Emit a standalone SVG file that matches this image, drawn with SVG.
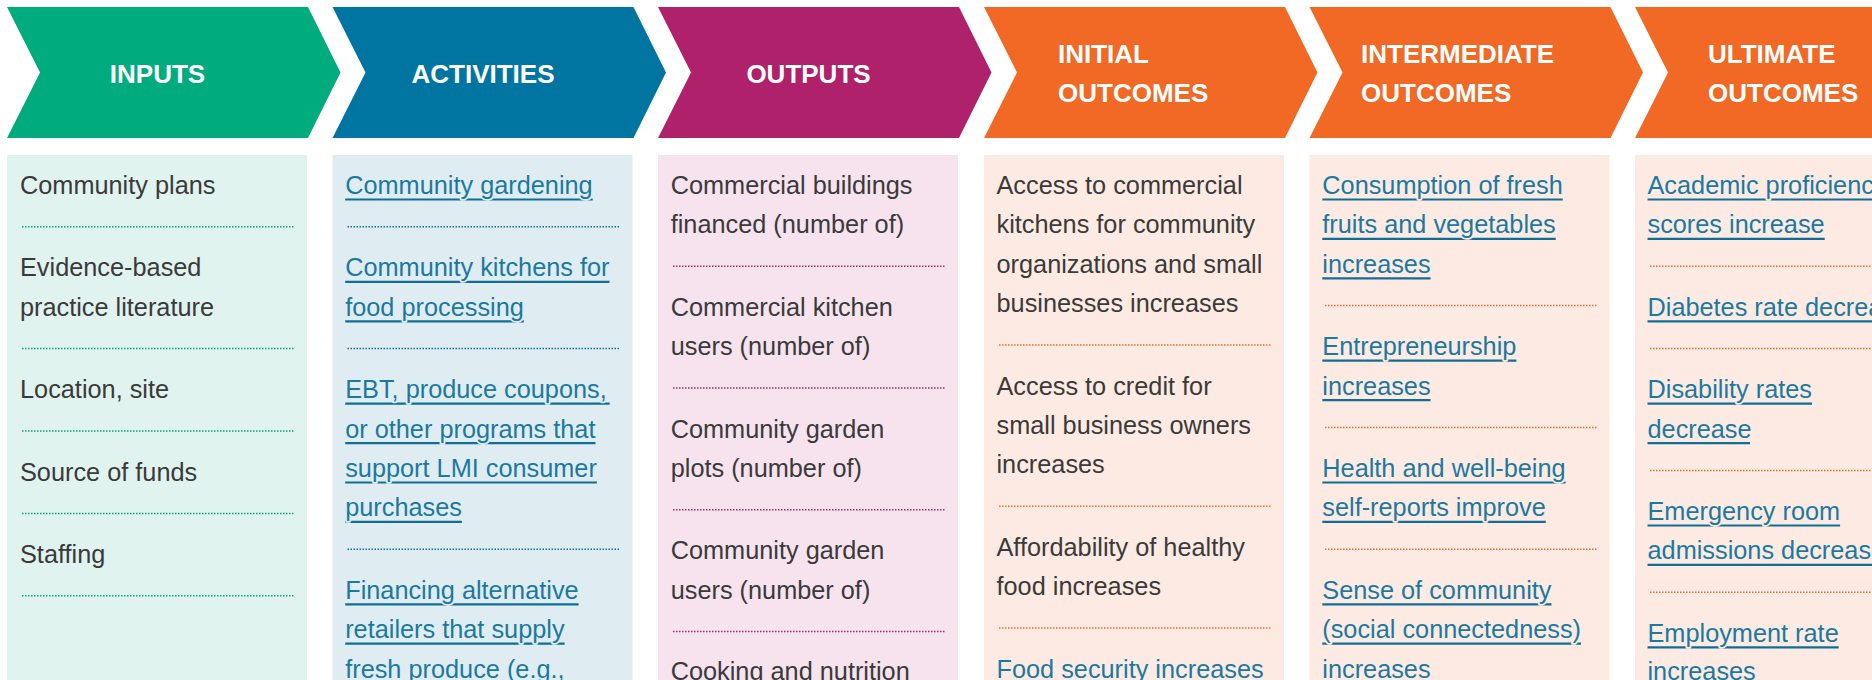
<svg xmlns="http://www.w3.org/2000/svg" width="1872" height="680" viewBox="0 0 1872 680">
  <style>
    .hdr { font-family: "Liberation Sans", Arial, sans-serif; font-weight: bold; font-size: 26px; fill: #ffffff; }
    .c { text-anchor: middle; }
    .body { font-family: "Liberation Sans", Arial, sans-serif; font-size: 25.3px; fill: #3a3a3a; }
    .link { font-family: "Liberation Sans", Arial, sans-serif; font-size: 25.3px; fill: #1b79a1; stroke-width: 3.5; stroke-linejoin: round; paint-order: stroke; }
    .on-act { stroke: #dfedf3; }
    .on-oc { stroke: #fdebe3; }
    .ul { stroke: #0f6e98; stroke-width: 2.2; }
    .dot { stroke-width: 1.5; stroke-dasharray: 1.5 1.5; fill: none; }
    .g-in { fill: #00ac7d; } .bg-in { fill: #e0f3ef; } .d-in { stroke: #00a87a; }
    .g-act { fill: #0075a2; } .bg-act { fill: #dfedf3; } .d-act { stroke: #0b6f9b; }
    .g-out { fill: #af226b; } .bg-out { fill: #f6e3ee; } .d-out { stroke: #a8236a; }
    .g-oc { fill: #f16924; } .bg-oc { fill: #fdebe3; } .d-oc { stroke: #f06a28; }
  </style>
  <defs>
    <!-- chevron body: 301 wide along the top, 32.5 deep point and notch -->
    <path id="chev" d="M0,7 L301,7 L333.5,72.5 L301,138 L0,138 L33,72.5 Z"/>
  </defs>
  <rect width="1872" height="680" fill="#ffffff"/>

  <!-- INPUTS -->
  <g id="inputs">
    <use href="#chev" x="7" class="g-in"/>
    <text class="hdr c" x="157.5" y="83">INPUTS</text>
    <rect x="7" y="155" width="300" height="530" class="bg-in"/>
    <g class="body">
      <text x="20" y="194">Community plans</text>
      <text x="20" y="276.4">Evidence-based</text>
      <text x="20" y="315.8">practice literature</text>
      <text x="20" y="398.2">Location, site</text>
      <text x="20" y="480.6">Source of funds</text>
      <text x="20" y="563">Staffing</text>
    </g>
    <g class="dot d-in">
      <line x1="22" y1="226.8" x2="294" y2="226.8"/>
      <line x1="22" y1="348.6" x2="294" y2="348.6"/>
      <line x1="22" y1="431" x2="294" y2="431"/>
      <line x1="22" y1="513.4" x2="294" y2="513.4"/>
      <line x1="22" y1="595.8" x2="294" y2="595.8"/>
    </g>
  </g>

  <!-- ACTIVITIES -->
  <g id="activities">
    <use href="#chev" x="332.5" class="g-act"/>
    <text class="hdr c" x="483" y="83">ACTIVITIES</text>
    <rect x="332.5" y="155" width="300" height="530" class="bg-act"/>
    <g class="ul">
      <line x1="345.2" y1="199.5" x2="592.7" y2="199.5"/>
      <line x1="345.2" y1="281.9" x2="609.5" y2="281.9"/>
      <line x1="345.2" y1="321.3" x2="523.8" y2="321.3"/>
      <line x1="345.2" y1="403.7" x2="609.6" y2="403.7"/>
      <line x1="345.2" y1="443.1" x2="595.5" y2="443.1"/>
      <line x1="345.2" y1="482.5" x2="596.9" y2="482.5"/>
      <line x1="345.2" y1="521.9" x2="461.9" y2="521.9"/>
      <line x1="345.2" y1="604.3" x2="578.6" y2="604.3"/>
      <line x1="345.2" y1="643.7" x2="564.6" y2="643.7"/>
      <line x1="345.2" y1="683.1" x2="564.6" y2="683.1"/>
    </g>
    <g class="link on-act">
      <text x="345.2" y="194">Community gardening</text>
      <text x="345.2" y="276.4">Community kitchens for</text>
      <text x="345.2" y="315.8">food processing</text>
      <text x="345.2" y="398.2">EBT, produce coupons,</text>
      <text x="345.2" y="437.6">or other programs that</text>
      <text x="345.2" y="477">support LMI consumer</text>
      <text x="345.2" y="516.4">purchases</text>
      <text x="345.2" y="598.8">Financing alternative</text>
      <text x="345.2" y="638.2">retailers that supply</text>
      <text x="345.2" y="677.6">fresh produce (e.g.,</text>
    </g>
    <g class="dot d-act">
      <line x1="347.5" y1="226.8" x2="619.5" y2="226.8"/>
      <line x1="347.5" y1="348.6" x2="619.5" y2="348.6"/>
      <line x1="347.5" y1="549.2" x2="619.5" y2="549.2"/>
    </g>
  </g>

  <!-- OUTPUTS -->
  <g id="outputs">
    <use href="#chev" x="658" class="g-out"/>
    <text class="hdr c" x="808.5" y="83">OUTPUTS</text>
    <rect x="658" y="155" width="300" height="530" class="bg-out"/>
    <g class="body">
      <text x="670.7" y="194">Commercial buildings</text>
      <text x="670.7" y="233.4">financed (number of)</text>
      <text x="670.7" y="315.8">Commercial kitchen</text>
      <text x="670.7" y="355.2">users (number of)</text>
      <text x="670.7" y="437.6">Community garden</text>
      <text x="670.7" y="477">plots (number of)</text>
      <text x="670.7" y="559.4">Community garden</text>
      <text x="670.7" y="598.8">users (number of)</text>
      <text x="670.7" y="680">Cooking and nutrition</text>
    </g>
    <g class="dot d-out">
      <line x1="673" y1="266.2" x2="945" y2="266.2"/>
      <line x1="673" y1="388" x2="945" y2="388"/>
      <line x1="673" y1="509.8" x2="945" y2="509.8"/>
      <line x1="673" y1="631.6" x2="945" y2="631.6"/>
    </g>
  </g>

  <!-- INITIAL OUTCOMES -->
  <g id="initial-outcomes">
    <use href="#chev" x="984" class="g-oc"/>
    <text class="hdr" x="1058" y="63">INITIAL</text>
    <text class="hdr" x="1058" y="102">OUTCOMES</text>
    <rect x="984" y="155" width="300" height="530" class="bg-oc"/>
    <g class="body">
      <text x="996.5" y="194">Access to commercial</text>
      <text x="996.5" y="233.4">kitchens for community</text>
      <text x="996.5" y="272.8">organizations and small</text>
      <text x="996.5" y="312.2">businesses increases</text>
      <text x="996.5" y="394.6">Access to credit for</text>
      <text x="996.5" y="434">small business owners</text>
      <text x="996.5" y="473.4">increases</text>
      <text x="996.5" y="555.8">Affordability of healthy</text>
      <text x="996.5" y="595.2">food increases</text>
    </g>
    <line class="ul" x1="996.5" y1="683.1" x2="1263.6" y2="683.1"/>
    <text class="link on-oc" x="996.5" y="677.6">Food security increases</text>
    <g class="dot d-oc">
      <line x1="999" y1="345" x2="1271" y2="345"/>
      <line x1="999" y1="506.2" x2="1271" y2="506.2"/>
      <line x1="999" y1="628" x2="1271" y2="628"/>
    </g>
  </g>

  <!-- INTERMEDIATE OUTCOMES -->
  <g id="intermediate-outcomes">
    <use href="#chev" x="1309.5" class="g-oc"/>
    <text class="hdr" x="1361" y="63">INTERMEDIATE</text>
    <text class="hdr" x="1361" y="102">OUTCOMES</text>
    <rect x="1309.5" y="155" width="300" height="530" class="bg-oc"/>
    <g class="ul">
      <line x1="1322.3" y1="199.5" x2="1562.8" y2="199.5"/>
      <line x1="1322.3" y1="238.9" x2="1555.7" y2="238.9"/>
      <line x1="1322.3" y1="278.3" x2="1430.6" y2="278.3"/>
      <line x1="1322.3" y1="360.7" x2="1516.4" y2="360.7"/>
      <line x1="1322.3" y1="400.1" x2="1430.6" y2="400.1"/>
      <line x1="1322.3" y1="482.5" x2="1565.6" y2="482.5"/>
      <line x1="1322.3" y1="521.9" x2="1545.8" y2="521.9"/>
      <line x1="1322.3" y1="604.3" x2="1551.5" y2="604.3"/>
      <line x1="1322.3" y1="643.7" x2="1581" y2="643.7"/>
      <line x1="1322.3" y1="683.1" x2="1430.6" y2="683.1"/>
    </g>
    <g class="link on-oc">
      <text x="1322.3" y="194">Consumption of fresh</text>
      <text x="1322.3" y="233.4">fruits and vegetables</text>
      <text x="1322.3" y="272.8">increases</text>
      <text x="1322.3" y="355.2">Entrepreneurship</text>
      <text x="1322.3" y="394.6">increases</text>
      <text x="1322.3" y="477">Health and well-being</text>
      <text x="1322.3" y="516.4">self-reports improve</text>
      <text x="1322.3" y="598.8">Sense of community</text>
      <text x="1322.3" y="638.2">(social connectedness)</text>
      <text x="1322.3" y="677.6">increases</text>
    </g>
    <g class="dot d-oc">
      <line x1="1325" y1="305.6" x2="1597" y2="305.6"/>
      <line x1="1325" y1="427.4" x2="1597" y2="427.4"/>
      <line x1="1325" y1="549.2" x2="1597" y2="549.2"/>
    </g>
  </g>

  <!-- ULTIMATE OUTCOMES -->
  <g id="ultimate-outcomes">
    <use href="#chev" x="1635" class="g-oc"/>
    <text class="hdr" x="1708" y="63">ULTIMATE</text>
    <text class="hdr" x="1708" y="102">OUTCOMES</text>
    <rect x="1635" y="155" width="300" height="530" class="bg-oc"/>
    <g class="ul">
      <line x1="1647.5" y1="199.5" x2="1886.5" y2="199.5"/>
      <line x1="1647.5" y1="238.9" x2="1824.7" y2="238.9"/>
      <line x1="1647.5" y1="321.3" x2="1920.3" y2="321.3"/>
      <line x1="1647.5" y1="403.7" x2="1812" y2="403.7"/>
      <line x1="1647.5" y1="443.1" x2="1750.1" y2="443.1"/>
      <line x1="1647.5" y1="525.5" x2="1840.1" y2="525.5"/>
      <line x1="1647.5" y1="564.9" x2="1883.7" y2="564.9"/>
      <line x1="1647.5" y1="647.3" x2="1838.7" y2="647.3"/>
    </g>
    <g class="link on-oc">
      <text x="1647.5" y="194">Academic proficiency</text>
      <text x="1647.5" y="233.4">scores increase</text>
      <text x="1647.5" y="315.8">Diabetes rate decreases</text>
      <text x="1647.5" y="398.2">Disability rates</text>
      <text x="1647.5" y="437.6">decrease</text>
      <text x="1647.5" y="520">Emergency room</text>
      <text x="1647.5" y="559.4">admissions decrease</text>
      <text x="1647.5" y="641.8">Employment rate</text>
      <text x="1647.5" y="680">increases</text>
    </g>
    <g class="dot d-oc">
      <line x1="1650" y1="266.2" x2="1922" y2="266.2"/>
      <line x1="1650" y1="348.6" x2="1922" y2="348.6"/>
      <line x1="1650" y1="470.4" x2="1922" y2="470.4"/>
      <line x1="1650" y1="592.2" x2="1922" y2="592.2"/>
    </g>
  </g>
</svg>
